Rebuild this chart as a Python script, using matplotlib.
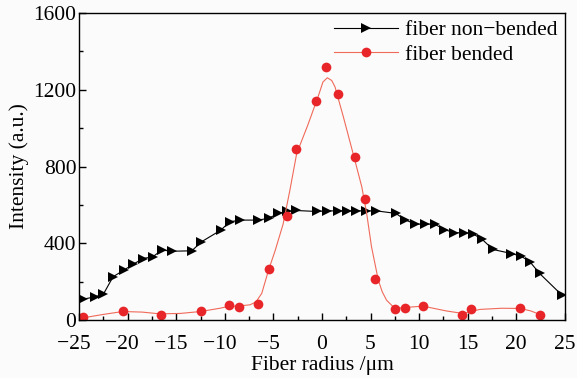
import matplotlib
matplotlib.use('Agg')
import matplotlib.pyplot as plt
from matplotlib.ticker import MultipleLocator, FuncFormatter

# fiber non-bended (triangles)
nonbended_x = [-24.6, -23.4, -22.5, -21.5, -20.4, -19.4, -18.4, -17.4, -16.5, -15.4,
               -13.4, -12.4, -10.4, -9.5, -8.4, -6.6, -5.5, -4.5, -3.6, -2.7,
               -0.55, 0.5, 1.6, 2.6, 3.5, 4.5, 5.6, 7.6, 8.5, 9.6,
               10.6, 11.6, 12.6, 13.6, 14.6, 15.5, 16.5, 17.6, 19.5, 20.5,
               21.4, 22.4, 24.7]
nonbended_y = [109, 121, 135, 226, 260, 292, 321, 330, 365, 359,
               361, 408, 469, 512, 521, 521, 530, 556, 566, 571,
               566, 569, 569, 569, 569, 569, 569, 556, 524, 500,
               500, 500, 472, 455, 455, 451, 420, 368, 347, 333,
               304, 243, 130]

# fiber bended (circles)
bended_x = [-24.6, -20.5, -16.6, -12.5, -9.6, -8.5, -6.6, -5.5, -3.6, -2.7,
            -0.6, 0.45, 1.6, 3.4, 4.4, 5.5, 7.5, 8.5, 10.4, 14.4,
            15.3, 20.4, 22.4]
bended_y = [14, 47, 26, 47, 78, 69, 83, 267, 543, 889,
            1141, 1318, 1176, 852, 632, 215, 58, 64, 73, 26,
            57, 64, 26]

# smoothed curve drawn through the bended data
curve_x = [-24.6, -22.5, -20.5, -18.5, -16.7, -14.6, -12.5, -10.5, -9.6, -8.5,
           -7.4, -6.8, -6.2, -5.5, -4.8, -4.0, -3.3, -2.6, -1.5, -0.4,
           0.1, 0.55, 1.0, 1.34, 2.2, 3.2, 4.1, 4.6, 5.1, 5.8,
           6.2, 6.65, 7.5, 8.5, 10.4, 12.8, 14.5, 16.25, 18.5, 20.4,
           21.5, 22.4]
curve_y = [12, 30, 45, 42, 33, 35, 45, 62, 72, 74,
           80, 95, 139, 260, 365, 500, 677, 868, 1010, 1163,
           1240, 1262, 1248, 1215, 1059, 868, 694, 556, 382, 208,
           148, 104, 61, 66, 73, 48, 35, 56, 62, 61,
           48, 30]

plt.rcParams['font.family'] = ['Liberation Serif', 'DejaVu Serif']
plt.rcParams['font.size'] = 15.5


def xfmt(v, pos):
    # digits centred on the tick, minus sign hanging to the left
    if v < 0:
        return '\u2212%d\u2002' % abs(v)
    return '%d' % v


fig = plt.figure(figsize=(5.77, 3.78), dpi=100, facecolor='#fbfbfb')
ax = fig.add_axes([0.137, 0.153, 0.842, 0.813])
ax.set_facecolor('#fbfbfb')

ax.plot(nonbended_x, nonbended_y, color='black', lw=0.8, marker='>',
        markersize=7.5, markeredgewidth=0, label='fiber non\u2212bended')
ax.plot(curve_x, curve_y, color='#f06a5a', lw=0.8)
ax.plot(bended_x, bended_y, color='#e8262a', lw=0, marker='o',
        markersize=7, markeredgewidth=0)
# legend proxy for bended: line + marker
ax.plot([], [], color='#f06a5a', lw=0.8, marker='o', markersize=7,
        markerfacecolor='#e8262a', markeredgewidth=0, label='fiber bended')

ax.set_xlim(-25, 25)
ax.set_ylim(0, 1600)
ax.xaxis.set_major_locator(MultipleLocator(5))
ax.xaxis.set_minor_locator(MultipleLocator(2.5))
ax.xaxis.set_major_formatter(FuncFormatter(xfmt))
ax.yaxis.set_major_locator(MultipleLocator(400))
ax.yaxis.set_minor_locator(MultipleLocator(200))
ax.tick_params(which='both', direction='in', top=False, right=False, width=1)
ax.tick_params(which='major', length=5, pad=2)
ax.tick_params(axis='x', which='major', pad=11)
ax.tick_params(which='minor', length=3)
for s in ax.spines.values():
    s.set_linewidth(1)

ax.set_xlabel('Fiber radius /\u03bcm', labelpad=1)
ax.set_ylabel('Intensity (a.u.)', labelpad=3)

ax.legend(loc='upper right', frameon=False, handlelength=3.0,
          handletextpad=0.3, borderaxespad=0.15, labelspacing=0.2,
          borderpad=0.2)

fig.savefig('out.png', dpi=100, facecolor=fig.get_facecolor())
